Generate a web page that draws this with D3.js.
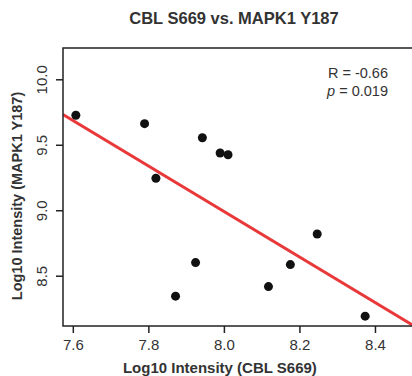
<!DOCTYPE html>
<html>
<head>
<meta charset="utf-8">
<script src="https://d3js.org/d3.v7.min.js"></script>
<style>
  body { margin: 0; background: #fff; }
  text { font-family: "Liberation Sans", Arial, sans-serif; fill: #333; }
</style>
</head>
<body>
<div id="chart"></div>
<script>
// data
var cblS669   = [7.608, 7.790, 7.943, 7.990, 8.011, 7.820, 8.247, 7.925, 8.176, 8.118, 7.872, 8.374];
var mapk1Y187 = [9.725, 9.661, 9.554, 9.437, 9.424, 9.244, 8.819, 8.600, 8.585, 8.417, 8.344, 8.191];
var xTicks = [7.6, 7.8, 8.0, 8.2, 8.4];
var yTicks = [8.5, 9.0, 9.5, 10.0];
var fitSlope = -1.737, fitIntercept = 22.887;
var statLines = ["R = -0.66", "p = 0.019"];

var w = 412, h = 376;
var margin = {top: 48, right: -3, bottom: 50, left: 63};
var width = w - margin.left - margin.right;
var height = h - margin.top - margin.bottom;

var svg = d3.select("#chart").append("svg")
    .attr("width", w).attr("height", h);

var x = d3.scaleLinear().domain([7.574, 8.506]).range([0, width]);
var y = d3.scaleLinear().domain([8.116, 10.239]).range([height, 0]);

var g = svg.append("g")
    .attr("transform", "translate(" + margin.left + "," + margin.top + ")");

// clip for the fit line
svg.append("defs").append("clipPath").attr("id", "plotclip")
  .append("rect").attr("width", width).attr("height", height);

// fit line
var x0 = x.domain()[0], x1 = x.domain()[1];
g.append("line")
    .attr("clip-path", "url(#plotclip)")
    .attr("x1", x(x0)).attr("y1", y(fitIntercept + fitSlope * x0))
    .attr("x2", x(x1)).attr("y2", y(fitIntercept + fitSlope * x1))
    .attr("stroke", "#e8383a").attr("stroke-width", 3);

// points
var pts = cblS669.map(function(v, i) { return {x: v, y: mapk1Y187[i]}; });
g.selectAll("circle").data(pts).enter().append("circle")
    .attr("cx", function(d) { return x(d.x); })
    .attr("cy", function(d) { return y(d.y); })
    .attr("r", 4.5)
    .attr("fill", "#111");

// box
g.append("rect")
    .attr("width", width).attr("height", height)
    .attr("fill", "none").attr("stroke", "#222").attr("stroke-width", 1.5);

// x axis
var xAxis = g.append("g").attr("transform", "translate(0," + height + ")")
    .call(d3.axisBottom(x).tickValues(xTicks).tickFormat(d3.format(".1f")).tickSize(7).tickPadding(6));
xAxis.select(".domain").remove();
xAxis.selectAll("line").attr("stroke", "#222").attr("stroke-width", 1.5);
xAxis.selectAll("text").style("font-size", "15px").attr("fill", "#555");

// y axis, labels rotated like R
var yAxis = g.append("g")
    .call(d3.axisLeft(y).tickValues(yTicks).tickFormat(d3.format(".1f")).tickSize(7));
yAxis.select(".domain").remove();
yAxis.selectAll("line").attr("stroke", "#222").attr("stroke-width", 1.5);
yAxis.selectAll("text")
    .attr("x", null).attr("dy", null)
    .attr("transform", "translate(-16,0) rotate(-90)")
    .attr("text-anchor", "middle")
    .style("font-size", "15px").attr("fill", "#555");

// title
svg.append("text")
    .attr("x", 234).attr("y", 24)
    .attr("text-anchor", "middle")
    .style("font-size", "16.5px").style("font-weight", "bold")
    .text("CBL S669 vs. MAPK1 Y187");

// axis labels
svg.append("text")
    .attr("x", margin.left + x(8.0) - 4).attr("y", 373)
    .attr("text-anchor", "middle")
    .style("font-size", "15px").style("font-weight", "bold")
    .text("Log10 Intensity (CBL S669)");

svg.append("text")
    .attr("transform", "translate(22,196) rotate(-90)")
    .attr("text-anchor", "middle")
    .style("font-size", "14.5px").style("font-weight", "bold")
    .text("Log10 Intensity (MAPK1 Y187)");

// stats
var stat = g.append("text")
    .attr("text-anchor", "end")
    .style("font-size", "14.5px").attr("fill", "#444");
stat.append("tspan").attr("x", 325).attr("y", 30).text(statLines[0]);
var p2 = stat.append("tspan").attr("x", 325).attr("y", 48);
p2.append("tspan").style("font-style", "italic").text(statLines[1].slice(0, 1));
p2.append("tspan").text(statLines[1].slice(1));
</script>
</body>
</html>
